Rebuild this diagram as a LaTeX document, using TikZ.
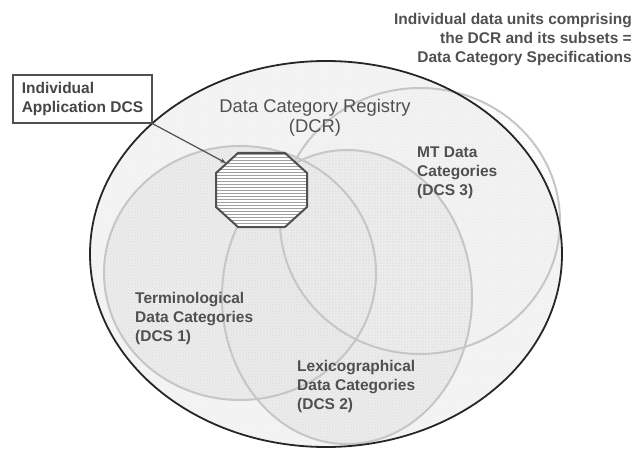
\documentclass[tikz,border=0pt]{standalone}
\usepackage{fontspec}
\setmainfont{Liberation Sans}
\usetikzlibrary{patterns,arrows.meta}
\definecolor{txtgray}{HTML}{505050}
\definecolor{boxtxt}{HTML}{464646}
\definecolor{ringgray}{HTML}{C6C6C6}
\definecolor{outerline}{HTML}{262626}
\definecolor{octline}{HTML}{505050}
\definecolor{outerbg}{HTML}{F2F2F2}
\tikzset{
  lbl/.style={font=\fontsize{15.5}{19}\selectfont\bfseries, text=txtgray, inner sep=0pt, align=left},
  dcrlbl/.style={font=\fontsize{18.4}{20}\selectfont, text=txtgray, inner sep=0pt, align=center},
  ring/.style={draw=ringgray, line width=2pt},
  ringfill/.style={pattern=crosshatch, pattern color=gray!22},
  appbox/.style={draw=octline, line width=1.6pt, fill=white, minimum width=139pt, minimum height=48pt,
    inner sep=0pt, align=left, text=boxtxt,
    font=\fontsize{15.5}{18.5}\selectfont\bfseries},
  arrowst/.style={draw=octline, line width=1.2pt, -{Stealth[length=6pt,width=4.5pt]}}
}
\begin{document}
\begin{tikzpicture}[x=1pt,y=-1pt]
\useasboundingbox (0,0) rectangle (636,449);
% outer registry ellipse fill
\fill[outerbg] (326,254) ellipse [x radius=236, y radius=193];
\fill[pattern=dots, pattern color=white] (326,254) ellipse [x radius=236, y radius=193];
% subset circles fills
\fill[ringfill] (240,273) ellipse [x radius=136, y radius=127];
\fill[ringfill] (347,297) ellipse [x radius=125, y radius=147];
\fill[pattern=crosshatch dots, pattern color=gray!16] (420,221) ellipse [x radius=140, y radius=133];
% subset circle outlines
\draw[ring] (420,221) ellipse [x radius=140, y radius=133];
\draw[ring] (240,273) ellipse [x radius=136, y radius=127];
\draw[ring] (347,297) ellipse [x radius=125, y radius=147];
% outer outline
\draw[outerline, line width=1.8pt] (326,254) ellipse [x radius=236, y radius=193];
% octagon
\fill[white] (238,153) -- (285,153) -- (307,173) -- (307,207) -- (285,227) -- (238,227) -- (216,207) -- (216,173) -- cycle;
\fill[pattern=horizontal lines, pattern color=gray!75] (238,153) -- (285,153) -- (307,173) -- (307,207) -- (285,227) -- (238,227) -- (216,207) -- (216,173) -- cycle;
\draw[octline, line width=2pt, line join=miter] (238,153) -- (285,153) -- (307,173) -- (307,207) -- (285,227) -- (238,227) -- (216,207) -- (216,173) -- cycle;
\coordinate (octarr) at (226,163);
% labels (base anchor = baseline of last line)
\node[lbl, anchor=base east, align=right] (spec) at (632,63) {Individual data units comprising\\the DCR and its subsets =\\Data Category Specifications};
\node[dcrlbl, anchor=base] (dcr) at (315,133) {Data Category Registry\\(DCR)};
\node[lbl, anchor=base west] (mt) at (417,195) {MT Data\\Categories\\(DCS 3)};
\node[lbl, anchor=base west] (term) at (135,341) {Terminological\\Data Categories\\(DCS 1)};
\node[lbl, anchor=base west] (lex) at (297,409) {Lexicographical\\Data Categories\\(DCS 2)};
% application box and arrow
\node[appbox] (app) at (82.5,99) {Individual\\Application DCS};
\draw[arrowst] (app.south east) -- (octarr);
\end{tikzpicture}
\end{document}
